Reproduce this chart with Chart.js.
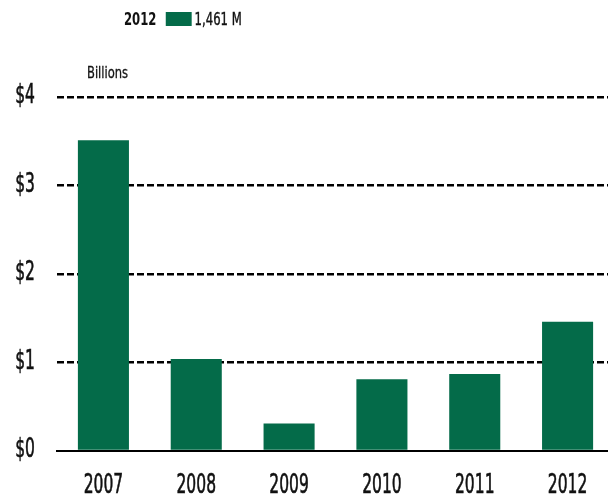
<!doctype html>
<html><head><meta charset="utf-8"><title>Billions by year</title>
<script src="https://cdn.jsdelivr.net/npm/chart.js"></script>
<style>
  html,body{margin:0;padding:0;background:#fff}
  #wrap{position:relative;width:608px;height:500px;overflow:hidden}
  .cond{font-family:"DejaVu Sans Condensed","DejaVu Sans",sans-serif;color:#111;transform-origin:0 0;white-space:nowrap}
  #legend{position:absolute;left:124px;top:8px;font-size:18px;display:flex;align-items:center;transform:scaleX(0.72)}
  #legend b{margin-right:13px}
  #legend i{display:inline-block;width:36px;height:14px;background:#046b49;margin-right:4px}
  #legend span{-webkit-text-stroke:0.4px #111}
  #unit{position:absolute;left:87px;top:63px;font-size:16px;transform:scaleX(0.8);-webkit-text-stroke:0.3px #111}
</style>
</head><body>
<div id="wrap">
  <!-- plot area runs a few px past the right edge in the original, so the canvas is wider and clipped -->
  <canvas id="c" width="614" height="500"></canvas>
  <div id="legend" class="cond"><b>2012</b><i></i><span>1,461 M</span></div>
  <div id="unit" class="cond">Billions</div>
</div>
<script>
// values (billions)
const years = ['2007', '2008', '2009', '2010', '2011', '2012'];
const amounts = [3.51, 1.04, 0.31, 0.81, 0.87, 1.461];
const yTicks = [0, 1, 2, 3, 4];

const FONT = '"DejaVu Sans Condensed","DejaVu Sans",sans-serif';

// the original uses a tall condensed face: draw tick labels squeezed horizontally
const narrowTicks = {
  id: 'narrowTicks',
  afterDraw(chart) {
    const ctx = chart.ctx;
    const xs = chart.scales.x, ys = chart.scales.y;
    const put = (txt, x, y, align) => {
      ctx.save();
      ctx.translate(x, y);
      ctx.scale(0.64, 1);
      ctx.textAlign = align;
      ctx.fillText(txt, 0, 0);
      ctx.strokeText(txt, 0, 0);
      ctx.restore();
    };
    ctx.save();
    ctx.fillStyle = '#111';
    ctx.strokeStyle = '#111';
    ctx.lineWidth = 0.6;
    ctx.font = '27px ' + FONT;
    ctx.textBaseline = 'middle';
    xs.ticks.forEach((t, i) => put(years[i], xs.getPixelForTick(i), 486, 'center'));
    yTicks.forEach(v => put('$' + v, 35, ys.getPixelForValue(v) - 1, 'right'));
    ctx.restore();
  }
};

new Chart(document.getElementById('c'), {
  type: 'bar',
  data: {
    labels: years,
    datasets: [{ label: '1,461 M', data: amounts, backgroundColor: '#046b49', borderWidth: 0,
      barPercentage: 0.55, categoryPercentage: 1 }]
  },
  options: {
    responsive: false,
    animation: false,
    layout: { padding: { top: 97, right: 0, left: 0, bottom: 0 } },
    plugins: { legend: { display: false }, tooltip: { enabled: false } },
    scales: {
      x: {
        grid: { display: false },
        border: { display: true, color: '#000', width: 2 },
        ticks: { display: false },
        afterFit: s => { s.height = 49; }
      },
      y: {
        min: 0, max: 4,
        afterBuildTicks: s => { s.ticks = yTicks.map(v => ({ value: v })); },
        grid: { color: c => c.tick && c.tick.value === 0 ? 'rgba(0,0,0,0)' : '#000', lineWidth: 2.5, drawTicks: false },
        border: { display: false, dash: [7, 3] },
        ticks: { display: false },
        afterFit: s => { s.width = 57; }
      }
    }
  },
  plugins: [narrowTicks]
});
</script>
</body></html>
